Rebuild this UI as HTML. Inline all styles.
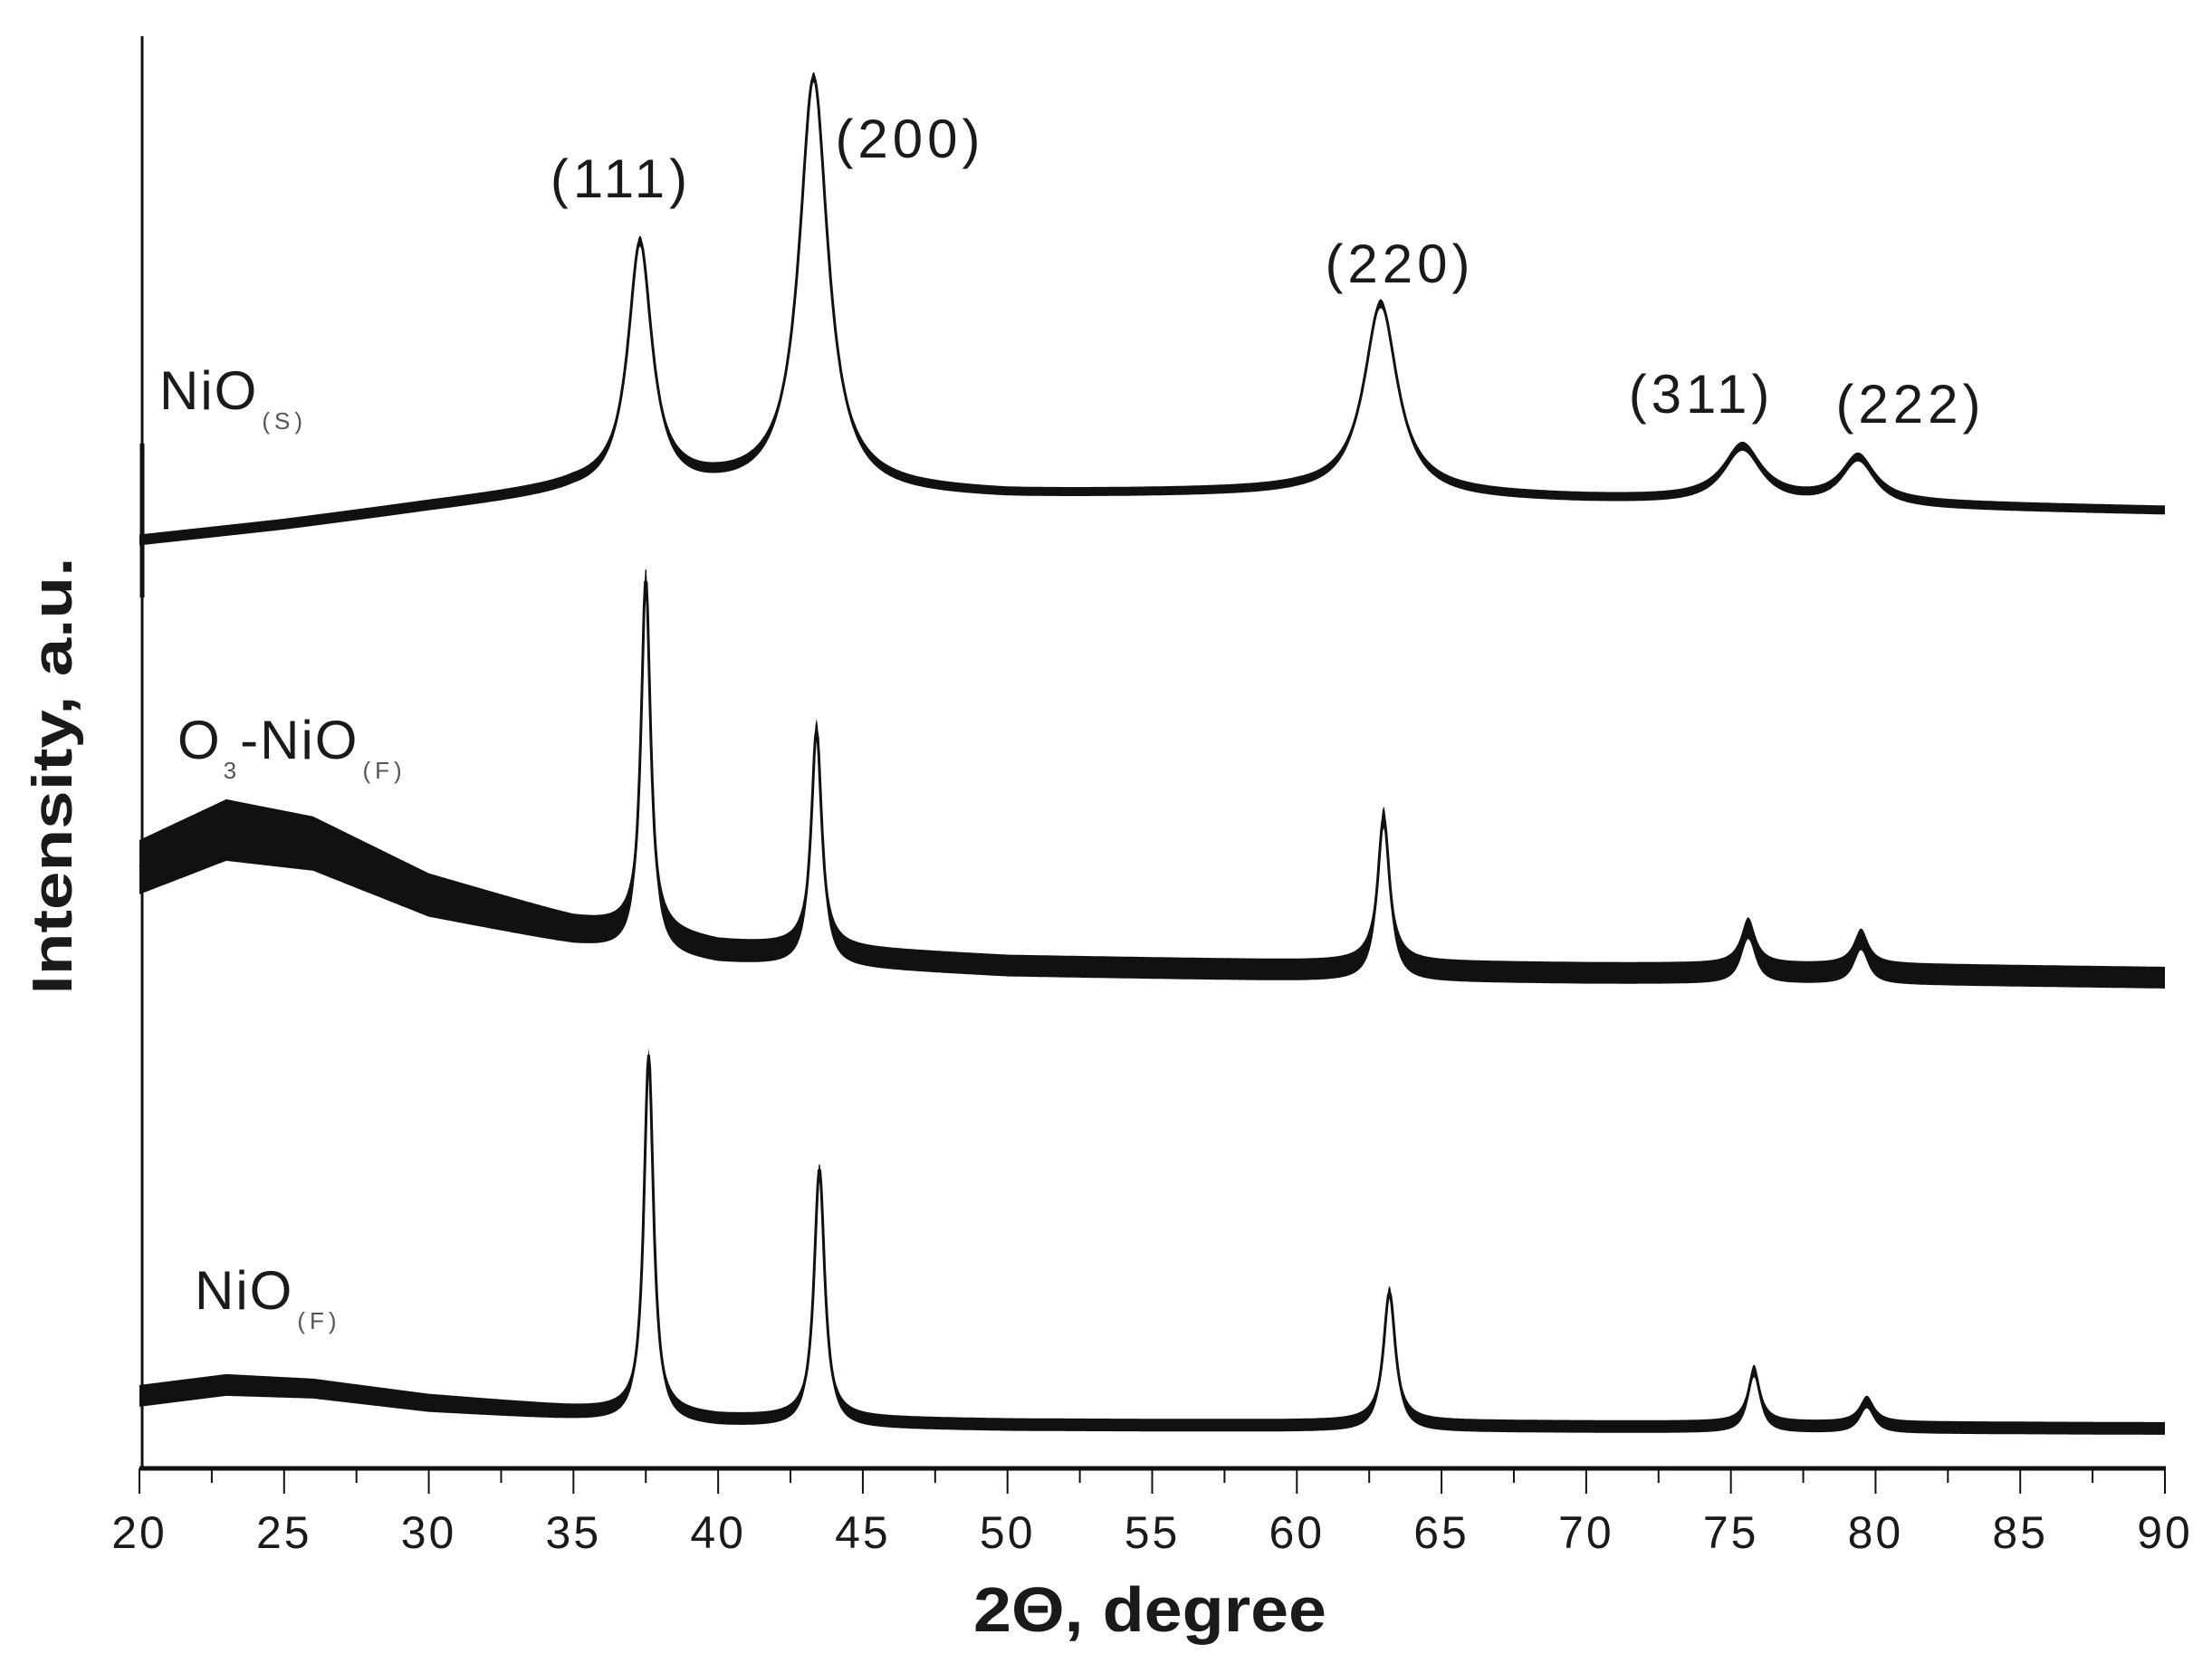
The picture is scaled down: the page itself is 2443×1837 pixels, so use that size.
<!DOCTYPE html>
<html><head><meta charset="utf-8"><style>
html,body{margin:0;padding:0;background:#fff;}
svg{display:block;}
text{font-family:"Liberation Sans",Arial,sans-serif;fill:#1a1a1a;}
</style></head><body>
<svg id="chart" width="2443" height="1837" viewBox="0 0 2443 1837" xmlns="http://www.w3.org/2000/svg">
<g id="plot"></g>
<g id="axes"></g>
<g id="labels">
  <text x="176" y="452" font-size="60" letter-spacing="2">NiO<tspan font-size="26" fill="#555" letter-spacing="5" dx="4" dy="22">(S)</tspan></text>
  <text x="196" y="838" font-size="60" letter-spacing="2">O<tspan font-size="26" fill="#555" dx="2" dy="22">3</tspan><tspan dy="-22" dx="2">-NiO</tspan><tspan font-size="26" fill="#555" letter-spacing="5" dx="4" dy="22">(F)</tspan></text>
  <text x="215" y="1446" font-size="60" letter-spacing="2">NiO<tspan font-size="26" fill="#555" letter-spacing="5" dx="4" dy="22">(F)</tspan></text>
  <text x="686" y="218" font-size="60" letter-spacing="5" text-anchor="middle">(111)</text>
  <text x="1005" y="174" font-size="60" letter-spacing="5" text-anchor="middle">(200)</text>
  <text x="1546" y="312" font-size="60" letter-spacing="5" text-anchor="middle">(220)</text>
  <text x="1879" y="456" font-size="60" letter-spacing="5" text-anchor="middle">(311)</text>
  <text x="2110" y="467" font-size="60" letter-spacing="5" text-anchor="middle">(222)</text>
  <text x="1270" y="1802" font-size="70" font-weight="bold" text-anchor="middle" textLength="390" lengthAdjust="spacingAndGlyphs">2Θ, degree</text>
  <text transform="translate(79,857) rotate(-90)" font-size="62" font-weight="bold" text-anchor="middle" textLength="483" lengthAdjust="spacingAndGlyphs">Intensity, a.u.</text>
</g>
</svg>
<script>
// ---- data ----
const xTicks = [20,25,30,35,40,45,50,55,60,65,70,75,80,85,90];
const minorTicks = [22.5,27.5,32.5,37.5,42.5,47.5,52.5,57.5,62.5,67.5,72.5,77.5,82.5,87.5];
// NiO(S)
const sBgX = [20,25,30,35,40,50,60,70,80,90];
const sBgV = [1025,1042,1062,1080,1082,1075,1078,1070,1064,1058];
const sNoise = [6,6,6,6,6,5,5,5,5,5];
const sPeakPos = [37.3,43.3,62.9,75.4,79.4];
const sPeakH = [270,455,210,60,50];
const sPeakW = [0.5,0.6,0.7,0.8,0.7];
// O3-NiO(F)
const oBgX = [20,23,26,30,35,40,45,50,60,70,80,90];
const oBgV = [664,705,690,633,594,570,563,555,550,547,546,542];
const oNoise = [30,34,30,24,16,13,12,12,12,12,12,12];
const oPeakPos = [37.5,43.4,63.0,75.6,79.5];
const oPeakH = [400,250,170,50,38];
const oPeakW = [0.2,0.22,0.25,0.3,0.3];
// NiO(F)
const fBgX = [20,23,26,30,35,40,50,60,70,80,90];
const fBgV = [80,92,88,72,61,52,48,47,46,45,44];
const fNoise = [12,12,11,10,8,7,7,7,7,7,7];
const fPeakPos = [37.6,43.5,63.2,75.8,79.7];
const fPeakH = [400,280,148,62,28];
const fPeakW = [0.2,0.22,0.25,0.25,0.3];

// ---- scales ----
const X0=154, X1=2391, AX=1622;
const xs = t => X0 + (t-20)*(X1-X0)/70;
const ys = v => AX - v;
const NS='http://www.w3.org/2000/svg';
function interp(xa,va,t){
  if(t<=xa[0]) return va[0];
  for(let i=1;i<xa.length;i++){ if(t<=xa[i]){const f=(t-xa[i-1])/(xa[i]-xa[i-1]); return va[i-1]+f*(va[i]-va[i-1]);} }
  return va[va.length-1];
}
function curve(bx,bv,pp,ph,pw,t){
  let v=interp(bx,bv,t);
  for(let i=0;i<pp.length;i++){const d=(t-pp[i])/pw[i]; v+=ph[i]/(1+d*d);}
  return v;
}
const plot=document.getElementById('plot');
function series(name,bx,bv,nz,pp,ph,pw){
  const g=document.createElementNS(NS,'g');
  
  
  const top=[],bot=[],mid=[];
  for(let t=20;t<=90.001;t+=0.04){
    const v=curve(bx,bv,pp,ph,pw,t), n=interp(bx,nz,t);
    top.push(xs(t).toFixed(1)+','+ys(v+n).toFixed(1));
    bot.push(xs(t).toFixed(1)+','+ys(v-n).toFixed(1));
    mid.push(xs(t).toFixed(1)+','+ys(v).toFixed(1));
  }
  const band=document.createElementNS(NS,'polygon');
  
  
  band.setAttribute('points',top.concat(bot.reverse()).join(' '));
  band.setAttribute('fill','#111');
  g.appendChild(band);
  const line=document.createElementNS(NS,'polyline');
  
  
  line.setAttribute('points',mid.join(' '));
  line.setAttribute('fill','none');line.setAttribute('stroke','#111');line.setAttribute('stroke-width','3');
  g.appendChild(line);
  plot.appendChild(g);
}
series('series-nio-s',sBgX,sBgV,sNoise,sPeakPos,sPeakH,sPeakW);
series('series-o3-nio-f',oBgX,oBgV,oNoise,oPeakPos,oPeakH,oPeakW);
series('series-nio-f',fBgX,fBgV,fNoise,fPeakPos,fPeakH,fPeakW);

// ---- axes ----
const axes=document.getElementById('axes');
function ln(name,x1,y1,x2,y2,w){
  const l=document.createElementNS(NS,'line');
  
  
  l.setAttribute('x1',x1);l.setAttribute('y1',y1);l.setAttribute('x2',x2);l.setAttribute('y2',y2);
  l.setAttribute('stroke','#111');l.setAttribute('stroke-width',w);
  axes.appendChild(l);
}
ln('y-axis-line',157,40,157,1622,3);
ln('series-start-spike',157,490,157,660,5);
ln('x-axis-line',154,1622,2392,1622,5);
xTicks.forEach(t=>{
  ln('x-major-tick',xs(t),1622,xs(t),1650,2);
  const tx=document.createElementNS(NS,'text');
  
  
  tx.setAttribute('x',xs(t));tx.setAttribute('y',1710);
  tx.setAttribute('font-size','50');tx.setAttribute('text-anchor','middle');
  tx.setAttribute('letter-spacing','3');
  tx.textContent=t;
  axes.appendChild(tx);
});
minorTicks.forEach(t=>{ ln('x-minor-tick',xs(t),1622,xs(t),1638,2); });
</script>
</body></html>
